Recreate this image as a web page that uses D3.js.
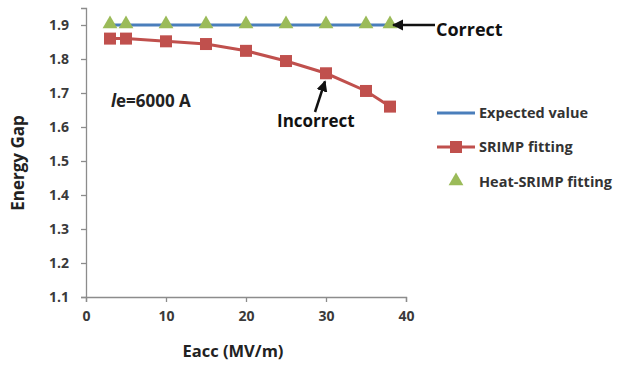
<!DOCTYPE html>
<html><head><meta charset="utf-8">
<script src="https://cdn.jsdelivr.net/npm/d3@7"></script>
<style>body{margin:0;background:#fff}svg{display:block}text{font-family:"Open Sans",Lato,sans-serif}</style>
</head><body>
<svg id="c" width="626" height="369"></svg>
<script>
const eacc = [3, 5, 10, 15, 20, 25, 30, 35, 38];
const expected = [1.9, 1.9, 1.9, 1.9, 1.9, 1.9, 1.9, 1.9, 1.9];
const srimp = [1.86, 1.86, 1.852, 1.844, 1.824, 1.794, 1.758, 1.706, 1.66];
const heatSrimp = [1.9, 1.9, 1.9, 1.9, 1.9, 1.9, 1.9, 1.9, 1.9];
const xTicks = [0, 10, 20, 30, 40];
const yTicks = [1.1, 1.2, 1.3, 1.4, 1.5, 1.6, 1.7, 1.8, 1.9];
const seriesNames = ["Expected value", "SRIMP fitting", "Heat-SRIMP fitting"];

const svg = d3.select("#c");
const x = d3.scaleLinear().domain([0, 40]).range([86, 406]);
const y = d3.scaleLinear().domain([1.1, 1.95]).range([297, 8]);
const axisCol = "#8c8c8c", textCol = "#3a3a3a";

const gx = svg.append("g").attr("transform", `translate(0,${y(1.1)})`)
  .call(d3.axisBottom(x).tickValues(xTicks).tickSize(5).tickPadding(9).tickFormat(d3.format("d")));
const gy = svg.append("g").attr("transform", `translate(${x(0)},0)`)
  .call(d3.axisLeft(y).tickValues(yTicks).tickSize(5).tickPadding(12).tickFormat(d3.format(".1f")));
[gx, gy].forEach(g => {
  g.selectAll("path,line").attr("stroke", axisCol).attr("stroke-width", 1.3);
  g.selectAll("text").attr("fill", textCol).style("font-size", "14px").style("font-weight", "bold");
});

const line = d3.line().x((d, i) => x(eacc[i])).y(d => y(d));
svg.append("path").datum(expected).attr("d", line).attr("fill", "none")
  .attr("stroke", "#4a7ebb").attr("stroke-width", 3);
svg.append("path").datum(srimp).attr("d", line).attr("fill", "none")
  .attr("stroke", "#c0504d").attr("stroke-width", 3);
svg.append("g").selectAll("rect").data(srimp).join("rect")
  .attr("x", (d, i) => x(eacc[i]) - 6).attr("y", d => y(d) - 6)
  .attr("width", 12).attr("height", 12).attr("fill", "#c0504d");
const tri = d3.symbol().type(d3.symbolTriangle).size(95);
svg.append("g").selectAll("path").data(heatSrimp).join("path")
  .attr("d", tri).attr("transform", (d, i) => `translate(${x(eacc[i])},${y(d) - 1})`)
  .attr("fill", "#9bbb59");

// axis titles
svg.append("text").attr("transform", "translate(24,163) rotate(-90)").attr("text-anchor", "middle")
  .style("font-size", "17px").style("font-weight", "bold").attr("fill", "#222").text("Energy Gap");
svg.append("text").attr("x", 233).attr("y", 357).attr("text-anchor", "middle")
  .style("font-size", "16.5px").style("font-weight", "bold").attr("fill", "#222").text("Eacc (MV/m)");

// annotations
svg.append("defs").append("marker").attr("id", "ah").attr("viewBox", "0 0 10 10")
  .attr("refX", 9).attr("refY", 5).attr("markerWidth", 4.5).attr("markerHeight", 4.5)
  .attr("orient", "auto").append("path").attr("d", "M0,0L10,5L0,10Z").attr("fill", "#111");
svg.append("line").attr("x1", 435).attr("y1", y(1.9)).attr("x2", x(38) + 3).attr("y2", y(1.9))
  .attr("stroke", "#111").attr("stroke-width", 2.5).attr("marker-end", "url(#ah)");
svg.append("text").attr("x", 436).attr("y", 36).style("font-size", "18px").style("font-weight", "bold")
  .attr("fill", "#111").text("Correct");
svg.append("line").attr("x1", 315).attr("y1", 112).attr("x2", x(30) - 1).attr("y2", y(1.758) + 8)
  .attr("stroke", "#111").attr("stroke-width", 2.5).attr("marker-end", "url(#ah)");
svg.append("text").attr("x", 277).attr("y", 127).style("font-size", "17px").style("font-weight", "bold")
  .attr("fill", "#111").text("Incorrect");
const le = svg.append("text").attr("x", 111).attr("y", 107).style("font-size", "17px")
  .style("font-weight", "bold").attr("fill", "#222");
le.append("tspan").style("font-style", "italic").text("l");
le.append("tspan").text("e=6000 A");

// legend
const lg = svg.append("g").attr("transform", "translate(437,0)");
const rows = [113, 147, 182];
lg.append("line").attr("x1", 0).attr("x2", 38).attr("y1", rows[0]).attr("y2", rows[0])
  .attr("stroke", "#4a7ebb").attr("stroke-width", 3);
lg.append("line").attr("x1", 0).attr("x2", 38).attr("y1", rows[1]).attr("y2", rows[1])
  .attr("stroke", "#c0504d").attr("stroke-width", 3);
lg.append("rect").attr("x", 13).attr("y", rows[1] - 6).attr("width", 12).attr("height", 12).attr("fill", "#c0504d");
lg.append("path").attr("d", tri).attr("transform", `translate(19,${rows[2] - 1})`).attr("fill", "#9bbb59");
lg.selectAll("text.l").data(seriesNames).join("text").attr("class", "l")
  .attr("x", 42).attr("y", (d, i) => rows[i] + 5).style("font-size", "14.5px").style("font-weight", "bold")
  .attr("fill", "#333").text(d => d);
</script>
</body></html>
